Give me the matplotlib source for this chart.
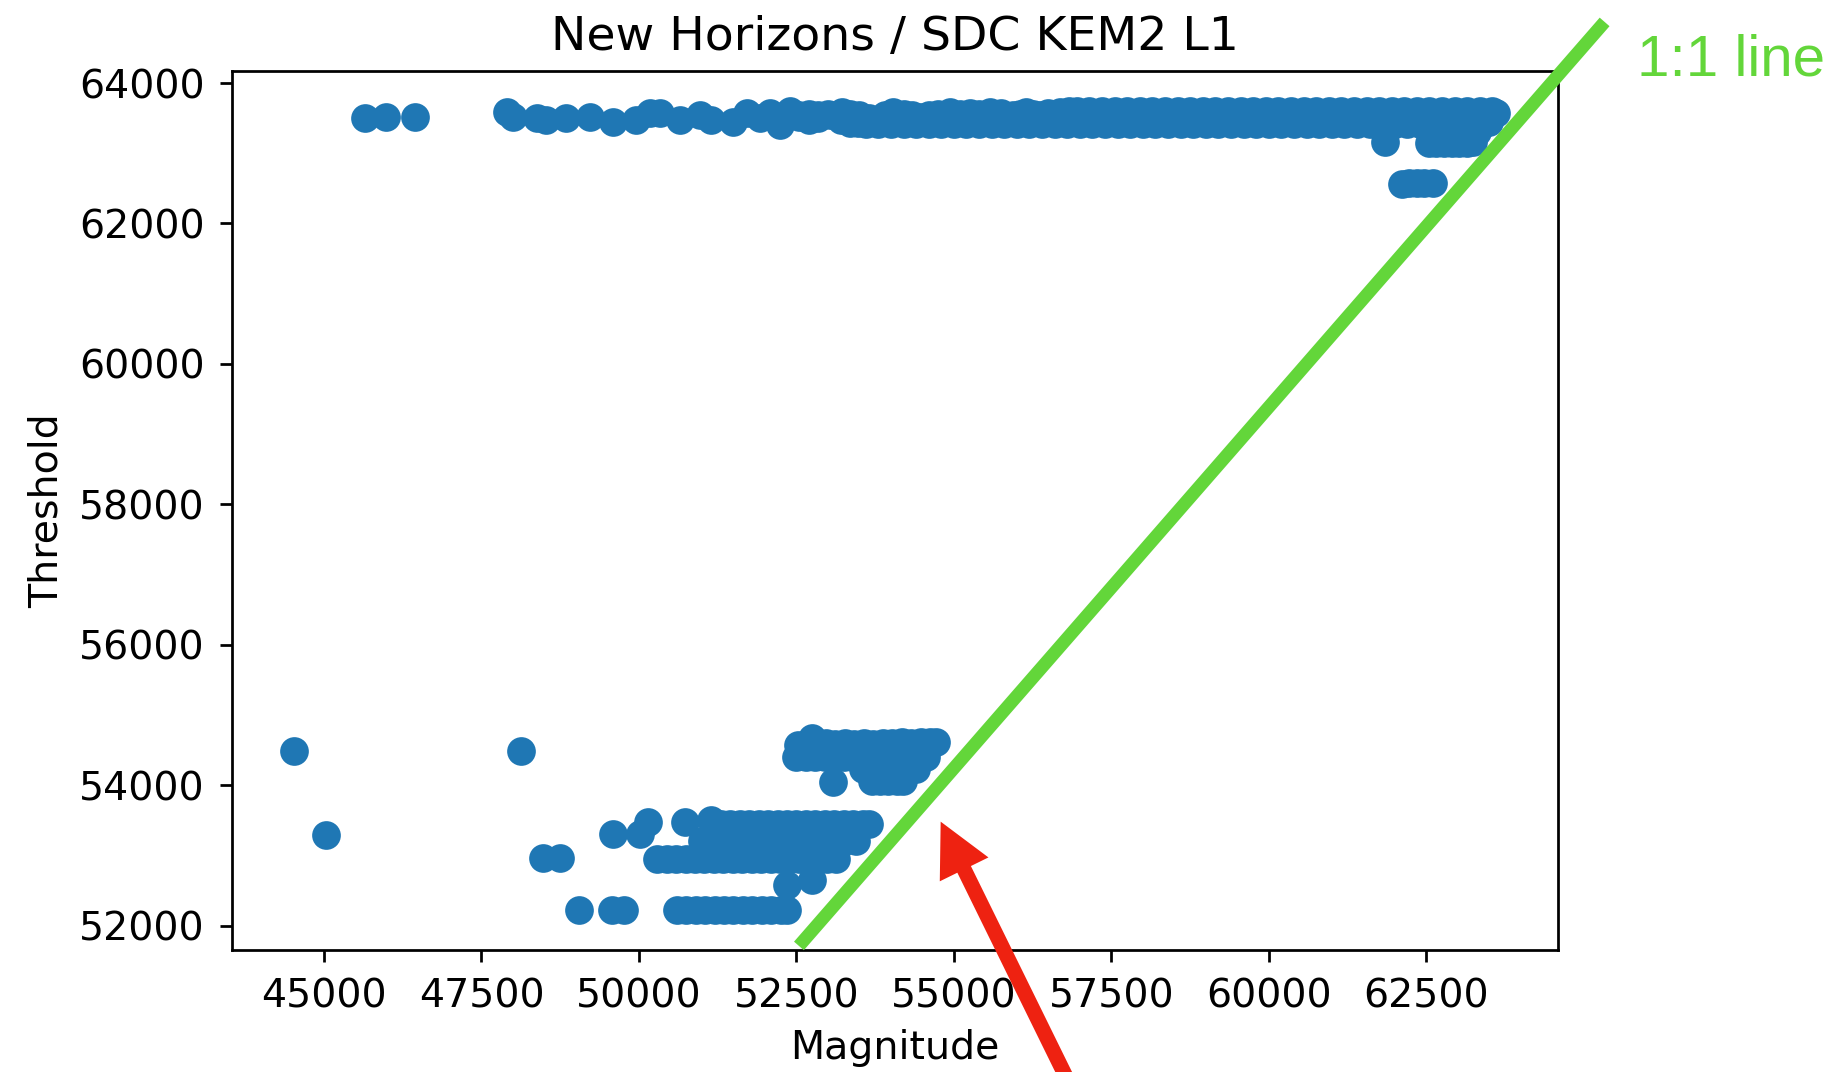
import numpy as np
import matplotlib
matplotlib.use("Agg")
import matplotlib.pyplot as plt

# ---- data ----
# upper band (threshold ~63500), sparse left part
band_left_x = [45650, 45990, 46440, 47900, 48000, 48380, 48530, 48850, 49220,
               49590, 49960, 50180, 50330, 50650, 50970, 51150, 51500, 51710,
               51920, 52080, 52240, 52400]
band_left_y = [63500, 63520, 63520, 63580, 63510, 63500, 63480, 63500, 63520,
               63450, 63480, 63570, 63570, 63480, 63550, 63480, 63450, 63570,
               63500, 63570, 63400, 63600]

# upper band, bumpy top between 52500 and 57000
band_wavy_x = [52540, 52700, 52850, 53000, 53220, 53350, 53500, 53650, 53770,
               53900, 54040, 54200, 54330, 54460, 54600, 54750, 54940, 55100,
               55250, 55400, 55570, 55750, 55940, 56050, 56150, 56260, 56370,
               56500, 56680, 56820,
               52540, 52700, 52850, 53030, 53200, 53350, 53480]
band_wavy_y = [63540, 63560, 63540, 63560, 63580, 63560, 63540, 63500, 63470,
               63540, 63580, 63560, 63540, 63520, 63540, 63560, 63580, 63560,
               63570, 63560, 63580, 63570, 63540, 63560, 63580, 63560, 63540,
               63570, 63590, 63600,
               63510, 63480, 63500, 63540, 63470, 63435, 63430]

# upper band, flat top row
band_top_x = [56950, 57150, 57350, 57550, 57750, 57950, 58150, 58350, 58550,
              58750, 58950, 59150, 59350, 59550, 59750, 59950, 60150, 60350,
              60550, 60750, 60950, 61150, 61350, 61550, 61750, 61950, 62150,
              62350, 62550, 62750, 62950, 63150, 63350, 63550, 63610]
band_top_y = [63600] * 34 + [63570]

# upper band, bottom row
band_bot_x = [53600, 53800, 54000, 54200, 54400, 54600, 54800, 55000, 55200,
              55400, 55600, 55800, 56000, 56200, 56400, 56600, 56800, 57000,
              57200, 57400, 57600, 57800, 58000, 58200, 58400, 58600, 58800,
              59000, 59200, 59400, 59600, 59800, 60000, 60200, 60400, 60600,
              60800, 61000, 61200, 61400, 61600, 61800, 62000, 62200, 62400,
              62600, 62800, 63000, 63200, 63400, 63500]
band_bot_y = [63420] * 50 + [63440]

# points just below the upper band
under_x = [61840, 62540, 62660, 62780, 62900, 63020, 63140, 63240,
           62600, 62750, 62900, 63050, 63200, 63300,
           62110, 62230, 62350, 62470, 62600]
under_y = [63160, 63150, 63150, 63150, 63150, 63150, 63150, 63160,
           63300, 63300, 63300, 63300, 63300, 63300,
           62560, 62570, 62580, 62580, 62570]

# isolated low points
iso_x = [44530, 48120, 45030, 48480, 48750, 49590, 50010, 50150]
iso_y = [54480, 54480, 53290, 52960, 52960, 53310, 53310, 53480]

# lowest row (~52220) and two strays above it
low_x = [49050, 49580, 49770, 50600, 50750, 50900, 51050, 51200, 51350, 51500,
         51650, 51800, 51950, 52100, 52250, 52350, 52350, 52750]
low_y = [52220] * 16 + [52580, 52650]

# middle cluster (~52950 .. 53500)
mid_row1_x = [50290, 50440, 50590, 50740, 50890, 51040, 51190, 51340, 51490,
              51640, 51790, 51940, 52090, 52240, 52390, 52540, 52690, 52840,
              52990, 53130]
mid_row2_x = [51000, 51175, 51350, 51525, 51700, 51875, 52050, 52225, 52400,
              52575, 52750, 52925, 53100, 53275, 53450]
mid_row3_x = [50730, 51150, 51300, 51450, 51600, 51750, 51900, 52050, 52200,
              52350, 52500, 52650, 52800, 52950, 53100, 53250, 53400, 53550,
              53660]
mid_row3_y = [53480, 53500, 53440, 53450, 53440, 53450, 53440, 53450, 53440,
              53450, 53440, 53450, 53440, 53450, 53440, 53450, 53440, 53450,
              53440]

# upper-right cluster (~54000 .. 54700)
up_row1_x = [52740, 52820, 52970, 53120, 53270, 53420, 53570, 53720, 53870,
             54020, 54170, 54320, 54470, 54620, 54720]
up_row1_y = [54670, 54590, 54600, 54590, 54600, 54590, 54600, 54590, 54600,
             54600, 54610, 54600, 54610, 54620, 54620]
up_row2_x = [52500, 52650, 52800, 52950, 53100, 53250, 53400, 53550, 53700,
             53850, 54000, 54150, 54300, 54450, 54550]
up_row3_x = [53550, 53700, 53850, 54000, 54150, 54300, 54400]
up_row4_x = [53080, 53700, 53830, 53960, 54090, 54190, 52530]
up_row4_y = [54050, 54060, 54060, 54060, 54060, 54060, 54570]

# hand-drawn 1:1 guide and the pointer arrow (data coords)
guide_x = [52540, 65330]
guide_y = [51710, 64870]
arrow_tip = (54790, 53480)
arrow_tail = (56920, 49590)

mag = np.concatenate([band_left_x, band_wavy_x, band_top_x, band_bot_x,
                      under_x, iso_x, low_x, mid_row1_x, mid_row2_x,
                      mid_row3_x, up_row1_x, up_row2_x, up_row3_x, up_row4_x])
thr = np.concatenate([band_left_y, band_wavy_y, band_top_y, band_bot_y,
                      under_y, iso_y, low_y,
                      [52950] * len(mid_row1_x), [53200] * len(mid_row2_x),
                      mid_row3_y, up_row1_y, [54400] * len(up_row2_x),
                      [54230] * len(up_row3_x), up_row4_y])

# ---- figure ----
dpi = 247
fig = plt.figure(figsize=(1835 / dpi, 1072 / dpi), dpi=dpi)
ax = fig.add_axes([232 / 1835, 1 - 950 / 1072, 1326 / 1835, 879 / 1072])

ax.scatter(mag, thr, s=70, color="#1f77b4", linewidths=0)

ax.set_xlim(43540, 64590)
ax.set_ylim(51652, 64171)
ax.set_xticks([45000, 47500, 50000, 52500, 55000, 57500, 60000, 62500])
ax.set_yticks([52000, 54000, 56000, 58000, 60000, 62000, 64000])
ax.tick_params(labelsize=11.5, pad=4.5)

ax.set_title("New Horizons / SDC KEM2 L1", fontsize=13.8)
ax.set_xlabel("Magnitude", fontsize=11.5)
ax.set_ylabel("Threshold", fontsize=11.5)

# annotations drawn on top
ax.plot(guide_x, guide_y, color="#63d63a", lw=3.8, solid_capstyle="butt",
        clip_on=False, zorder=5)
fig.text(1637 / 1835, 1 - 75 / 1072, "1:1 line", color="#63d63a",
         fontsize=17, family=["Liberation Sans", "DejaVu Sans"],
         va="baseline", ha="left")
ax.annotate("", xy=arrow_tip, xytext=arrow_tail, xycoords="data",
            annotation_clip=False,
            arrowprops=dict(arrowstyle="simple,head_length=15.5,head_width=15.8,tail_width=4.4",
                            mutation_scale=1, color="#ee2211", lw=0,
                            shrinkA=0, shrinkB=0))

fig.savefig("out.png", dpi=dpi)
